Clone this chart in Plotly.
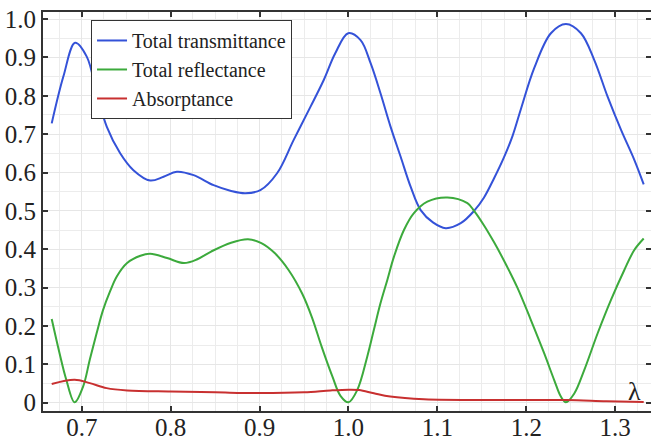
import plotly.graph_objects as go

# Total transmittance
t_x = [0.6662, 0.6793, 0.6925, 0.7056, 0.717, 0.7282, 0.7432, 0.7581, 0.777, 0.792, 0.807,
       0.8258, 0.8483, 0.8680, 0.884, 0.9009, 0.9197, 0.9384, 0.9572, 0.9722, 0.9850, 0.9997,
       1.0136, 1.0249, 1.0361, 1.0474, 1.0587, 1.0699, 1.0812, 1.0950, 1.1094, 1.1263, 1.1413,
       1.1525, 1.1638, 1.175, 1.1845, 1.1939, 1.2089, 1.2277, 1.2446, 1.2615, 1.2765, 1.2916,
       1.3066, 1.3215, 1.3321]
t_y = [0.728, 0.850, 0.938, 0.902, 0.806, 0.719, 0.650, 0.606, 0.579, 0.589, 0.602,
       0.593, 0.567, 0.552, 0.546, 0.554, 0.598, 0.685, 0.771, 0.841, 0.910, 0.963,
       0.945, 0.885, 0.806, 0.719, 0.641, 0.563, 0.502, 0.470, 0.455, 0.468, 0.500,
       0.535, 0.585, 0.640, 0.695, 0.765, 0.872, 0.963, 0.987, 0.963, 0.893, 0.797,
       0.711, 0.633, 0.569]

# Total reflectance
r_x = [0.6662, 0.675, 0.6826, 0.692, 0.7015, 0.709, 0.7167, 0.724, 0.7318, 0.7394, 0.751,
       0.766, 0.777, 0.796, 0.815, 0.830, 0.8455, 0.868, 0.887, 0.902, 0.917, 0.9326,
       0.948, 0.959, 0.970, 0.982, 0.991, 1.0000, 1.0099, 1.0211, 1.0286, 1.036, 1.0437,
       1.0511, 1.0624, 1.0736, 1.0887, 1.1113, 1.1338, 1.1413, 1.1525, 1.1638, 1.175, 1.19,
       1.2051, 1.2201, 1.2314, 1.2389, 1.2446, 1.254, 1.2652, 1.2803, 1.2953, 1.3103,
       1.3215, 1.3321]
r_y = [0.218, 0.129, 0.060, 0.001, 0.042, 0.112, 0.181, 0.242, 0.290, 0.329, 0.364,
       0.383, 0.388, 0.377, 0.364, 0.374, 0.394, 0.417, 0.426, 0.416, 0.390, 0.346,
       0.284, 0.222, 0.145, 0.068, 0.018, 0.001, 0.033, 0.120, 0.190, 0.259, 0.320,
       0.380, 0.450, 0.494, 0.524, 0.535, 0.520, 0.500, 0.462, 0.418, 0.370, 0.300,
       0.216, 0.129, 0.059, 0.016, 0.001, 0.024, 0.085, 0.181, 0.268, 0.346,
       0.398, 0.428]

# Absorptance
a_x = [0.6662, 0.692, 0.709, 0.728, 0.751, 0.80, 0.85, 0.90, 0.95, 0.98, 1.00, 1.012,
       1.0286, 1.047, 1.085, 1.171, 1.245, 1.29, 1.3321]
a_y = [0.049, 0.060, 0.051, 0.038, 0.032, 0.029, 0.027, 0.025, 0.027, 0.032, 0.034, 0.033,
       0.0245, 0.016, 0.009, 0.007, 0.007, 0.004, 0.002]

series_names = ["Total transmittance", "Total reflectance", "Absorptance"]
series_colors = ["#3452d8", "#3caa3c", "#c83030"]

x_ticks = [0.7, 0.8, 0.9, 1.0, 1.1, 1.2, 1.3]
x_labels = ["0.7", "0.8", "0.9", "1.0", "1.1", "1.2", "1.3"]
y_ticks = [0, 0.1, 0.2, 0.3, 0.4, 0.5, 0.6, 0.7, 0.8, 0.9, 1.0]
y_labels = ["0", "0.1", "0.2", "0.3", "0.4", "0.5", "0.6", "0.7", "0.8", "0.9", "1.0"]

fig = go.Figure()
for xs, ys, name, col in zip([t_x, r_x, a_x], [t_y, r_y, a_y], series_names, series_colors):
    fig.add_trace(go.Scatter(x=xs, y=ys, mode="lines", name=name,
                             line=dict(color=col, width=2, shape="spline", smoothing=1.0)))

font_family = "Liberation Serif"
axis_common = dict(
    showline=True, linecolor="#333333", linewidth=2, mirror="ticks",
    ticks="inside", ticklen=5, tickcolor="#333333", tickwidth=1.5,
    showgrid=True, gridcolor="#e6e6e6", gridwidth=1, zeroline=False, automargin=False,
    tickfont=dict(family=font_family, size=25, color="#222222"),
)
fig.update_xaxes(**axis_common, range=[0.6564, 1.3403], tickvals=x_ticks, ticktext=x_labels,
                 ticklabelstandoff=-7,
                 minor=dict(dtick=0.025, tick0=0.7, showgrid=True, gridcolor="#ececec", gridwidth=1))
fig.update_yaxes(**axis_common, range=[-0.0216, 1.0183], tickvals=y_ticks, ticktext=y_labels,
                 minor=dict(dtick=0.05, tick0=0, showgrid=True, gridcolor="#ececec", gridwidth=1))

fig.add_annotation(x=1.3215, y=0.03, xref="x", yref="y", text="λ", showarrow=False,
                   font=dict(family=font_family, size=26, color="#222222"),
                   xanchor="center", yanchor="middle")

fig.update_layout(
    width=651, height=437,
    margin=dict(l=43, r=0, t=12, b=26),
    paper_bgcolor="white", plot_bgcolor="white",
    legend=dict(x=0.079, y=0.98, xanchor="left", yanchor="top",
                bgcolor="white", bordercolor="#333333", borderwidth=1,
                font=dict(family=font_family, size=20, color="#222222"),
                tracegroupgap=0, itemwidth=30),
    showlegend=True,
)

fig.write_html("out.html", config={"displayModeBar": False},
               post_script="document.body.style.margin='0';document.body.style.overflow='hidden';")
